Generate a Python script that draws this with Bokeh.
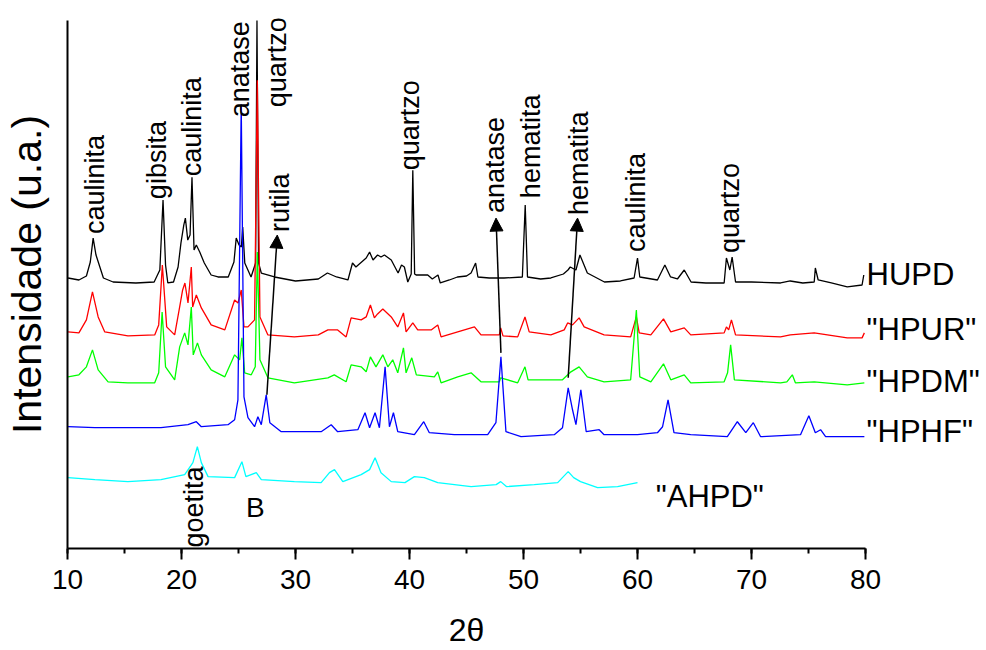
import math
from bokeh.plotting import figure
from bokeh.models import (Range1d, SingleIntervalTicker, FixedTicker, Label, Arrow, NormalHead,
                          LinearAxis)
from bokeh.embed import file_html
from bokeh.resources import INLINE

# ---------------- data (2theta, intensity in arbitrary units, stacked) ----------------
hupd_x = [10.05, 11.0, 11.66, 12.0, 12.25, 12.5, 13.15, 14.0, 16.0, 17.6, 18.1, 18.38, 18.6, 18.8, 19.3,
          19.7, 19.95, 20.2, 20.34, 20.55, 20.75, 20.92, 21.1, 21.3, 21.6, 22.0, 22.6, 23.2, 24.1, 24.6,
          24.8, 25.05, 25.25, 25.37, 25.55, 26.1, 26.5, 26.62, 26.76, 27.0, 28.16, 30.0, 32.0, 32.8, 33.6,
          34.6, 35.0, 35.3, 35.8, 36.2, 36.5, 36.8, 37.2, 37.5, 37.8, 38.4, 39.0, 39.3, 39.55, 39.85,
          40.15, 40.29, 40.45, 40.58, 41.6, 42.0, 42.5, 42.7, 43.5, 44.2, 45.0, 45.4, 45.8, 46.0, 47.0,
          48.3, 49.9, 50.15, 50.35, 51.5, 52.4, 53.5, 53.9, 54.1, 54.6, 54.95, 55.6, 57.1, 58.5, 59.7,
          60.0, 60.2, 61.75, 62.4, 62.9, 63.5, 64.1, 64.7, 66.0, 67.6, 67.8, 68.1, 68.3, 68.6, 70.0,
          72.55, 73.4, 74.5, 75.5, 75.6, 75.85, 77.0, 78.4, 79.7, 79.85]
hupd_y = [271, 269, 273, 287, 311, 294, 271, 267, 266, 267, 279, 349, 284, 266, 267,
          282, 306, 324, 331, 309, 314, 372, 299, 304, 297, 286, 274, 272, 272, 287,
          311, 304, 302, 322, 286, 272, 286, 529, 286, 276, 272, 268, 270, 276, 272,
          269, 286, 282, 287, 291, 297, 289, 294, 292, 294, 289, 276, 284, 282, 267,
          275, 379, 275, 274, 274, 270, 274, 266, 269, 272, 273, 276, 286, 272, 271,
          271, 272, 344, 272, 270, 271, 275, 279, 282, 279, 294, 276, 267, 268, 271,
          291, 272, 269, 284, 272, 270, 279, 267, 266, 266, 291, 279, 292, 267, 267,
          266, 268, 266, 267, 281, 269, 266, 262, 264, 274]

hpur_x = [10.05, 11.0, 11.66, 12.19, 12.69, 13.27, 15.3, 17.65, 18.0, 18.32, 18.7, 19.4, 19.84, 20.1,
          20.3, 20.57, 20.86, 20.98, 21.3, 21.74, 22.6, 23.8, 24.66, 24.96, 25.24, 25.48, 25.83, 26.41,
          26.65, 26.88, 27.58, 29.9, 32.0, 32.84, 33.7, 34.44, 34.88, 35.76, 36.2, 36.57, 36.92, 37.2,
          37.66, 38.4, 38.97, 39.47, 39.7, 40.29, 40.72, 41.9, 42.48, 42.77, 44.23, 45.7, 46.27, 47.88,
          48.0, 48.2, 49.49, 50.13, 50.5, 52.4, 53.57, 53.87, 54.3, 54.88, 55.32, 57.07, 59.4, 59.9,
          60.15, 61.17, 62.28, 62.92, 64.1, 64.67, 67.6, 67.8, 68.0, 68.24, 68.6, 72.55, 73.4, 75.5,
          78.4, 79.7, 79.9]
hpur_y = [217, 216, 229, 257, 232, 217, 213, 214, 224, 284, 222, 214, 242, 259,
          266, 246, 282, 242, 254, 241, 224, 219, 249, 246, 259, 222, 222, 229,
          469, 232, 214, 212, 214, 219, 219, 212, 231, 229, 232, 244, 231, 235,
          240, 232, 222, 236, 217, 226, 219, 219, 224, 212, 217, 222, 214, 214,
          221, 213, 212, 232, 217, 214, 219, 226, 224, 231, 222, 214, 212, 232,
          216, 214, 230, 217, 221, 214, 216, 222, 219, 229, 214, 212, 214, 216,
          211, 211, 216]

hpdm_x = [10.05, 11.0, 11.66, 12.19, 12.69, 13.56, 15.3, 17.65, 18.0, 18.3, 18.6, 19.4, 19.84, 20.28,
          20.57, 20.86, 21.03, 21.4, 21.74, 22.6, 23.8, 24.66, 25.1, 25.3, 25.54, 26.12, 26.47, 26.65,
          26.88, 27.58, 29.9, 32.84, 33.4, 34.44, 34.88, 35.76, 36.2, 36.57, 37.06, 37.66, 38.1, 38.53,
          38.97, 39.47, 39.7, 40.2, 40.6, 42.18, 42.48, 42.77, 44.23, 45.4, 46.27, 47.88, 48.0, 49.49,
          50.13, 50.4, 52.4, 53.42, 54.16, 54.88, 55.6, 57.07, 59.4, 59.9, 60.2, 61.17, 62.28, 62.92,
          64.1, 64.67, 67.6, 67.9, 68.17, 68.5, 72.55, 73.1, 73.58, 73.85, 75.5, 78.4, 79.9]
hpdm_y = [172, 174, 182, 199, 179, 167, 166, 166, 176, 237, 182, 169, 202, 216,
          204, 242, 194, 206, 194, 179, 172, 194, 189, 211, 176, 174, 182, 297,
          189, 171, 166, 171, 174, 167, 184, 182, 177, 192, 182, 194, 182, 189,
          176, 201, 176, 191, 174, 172, 177, 166, 172, 176, 167, 167, 171, 166,
          182, 169, 169, 169, 177, 182, 172, 167, 169, 239, 172, 167, 185, 169,
          174, 166, 167, 176, 204, 169, 166, 167, 174, 166, 167, 164, 166]

hphf_x = [10.05, 12.4, 15.3, 18.2, 20.57, 21.3, 21.74, 24.08, 24.66, 24.95, 25.24, 25.48, 25.83, 26.41,
          26.7, 27.0, 27.43, 27.75, 28.75, 29.9, 32.25, 33.13, 33.7, 35.47, 36.1, 36.5, 36.98, 37.36,
          37.86, 38.24, 38.59, 38.97, 40.43, 41.25, 41.74, 43.93, 46.86, 47.58, 48.02, 48.46, 49.78,
          52.7, 53.42, 53.92, 54.3, 54.6, 55.03, 55.5, 56.64, 57.07, 60.0, 61.75, 62.2, 62.68, 63.2,
          64.67, 67.88, 68.76, 69.5, 70.16, 70.8, 74.3, 75.03, 75.6, 76.06, 76.5, 79.9]
hphf_y = [122, 121, 121, 121, 124, 127, 122, 124, 129, 149, 445, 152, 131, 122,
          132, 124, 154, 126, 117, 117, 117, 124, 117, 119, 136, 121, 136, 121,
          182, 122, 136, 117, 114, 127, 116, 114, 114, 126, 192, 117, 112,
          114, 121, 161, 139, 124, 159, 117, 119, 114, 114, 116, 122, 149, 116,
          114, 112, 127, 116, 126, 112, 114, 133, 116, 119, 112, 112]

ahpd_x = [10.05, 12.4, 15.3, 18.2, 20.28, 21.0, 21.39, 21.74, 22.33, 24.66, 25.3, 25.65, 26.56, 27.0,
          29.9, 32.25, 32.98, 33.42, 34.15, 35.76, 36.5, 36.98, 37.5, 38.4, 39.6, 40.43, 41.3, 42.48,
          45.4, 47.6, 48.0, 48.5, 50.94, 53.0, 53.92, 54.4, 55.0, 56.5, 58.25, 60.0]
ahpd_y = [71, 69, 67, 69, 74, 86, 102, 86, 72, 71, 87, 72, 76, 69,
          67, 66, 76, 79, 67, 74, 79, 91, 76, 67, 66, 72, 71, 66,
          62, 64, 67, 62, 64, 66, 77, 71, 67, 61, 62, 66]

series_names = ["HUPD", "\"HPUR\"", "\"HPDM\"", "\"HPHF\"", "\"AHPD\""]
series_colors = ["#000000", "#ff0000", "#00ff00", "#0000ff", "#00ffff"]

peak_names = ["caulinita", "gibsita", "caulinita", "anatase", "quartzo", "rutila", "quartzo",
              "anatase", "hematita", "hematita", "caulinita", "quartzo", "goetita"]

y_axis_span = (0, 529)

# ---------------- figure ----------------
FONT = "Liberation Sans"
p = figure(width=986, height=650, output_backend="svg", toolbar_location=None,
           x_range=Range1d(10, 80), y_range=Range1d(0, 549),
           min_border_left=66, min_border_right=121, min_border_top=0, min_border_bottom=101)
p.grid.visible = False
p.outline_line_color = None
p.background_fill_color = "white"
p.border_fill_color = "white"

xs = [hupd_x, hpur_x, hpdm_x, hphf_x, ahpd_x]
ys = [hupd_y, hpur_y, hpdm_y, hphf_y, ahpd_y]
for x, y, c in zip(xs, ys, series_colors):
    p.line(x, y, line_color=c, line_width=1.3)

# x axis
xa = p.xaxis[0]
xa.ticker = SingleIntervalTicker(interval=10, num_minor_ticks=2)
xa.axis_line_width = 2
xa.axis_line_color = "black"
xa.major_tick_line_width = 2
xa.major_tick_out = 11
xa.major_tick_in = 0
xa.minor_tick_line_width = 2
xa.minor_tick_out = 5
xa.minor_tick_in = 0
xa.major_label_text_font = FONT
xa.major_label_text_font_size = "28px"
xa.major_label_text_color = "black"
xa.major_label_standoff = 10
xa.axis_label = "2θ"
xa.axis_label_text_font = FONT
xa.axis_label_text_font_size = "32px"
xa.axis_label_text_font_style = "normal"
xa.axis_label_text_color = "black"
xa.axis_label_standoff = 20

# y axis
ya = p.yaxis[0]
ya.bounds = y_axis_span
ya.ticker = FixedTicker(ticks=[])
ya.axis_line_width = 2
ya.axis_line_color = "black"
ya.major_tick_out = 0
ya.major_tick_in = 0
ya.minor_tick_out = 0
ya.minor_tick_in = 0
ya.major_label_standoff = 0
ya.axis_label = "Intensidade (u.a.)"
ya.axis_label_text_font = FONT
ya.axis_label_text_font_size = "41px"
ya.axis_label_text_font_style = "normal"
ya.axis_label_text_color = "black"
ya.axis_label_standoff = 18

# series names at the right end of the traces (right-hand axis labels)
name_levels = [275, 219, 167, 117]
ra = LinearAxis(ticker=FixedTicker(ticks=name_levels),
                major_label_overrides={lv: nm for lv, nm in zip(name_levels, series_names[:4])},
                axis_line_color=None, major_tick_line_color=None, minor_tick_line_color=None,
                major_tick_out=0, major_tick_in=0, major_label_standoff=1,
                major_label_text_font=FONT, major_label_text_font_size="31px",
                major_label_text_color="black")
p.add_layout(ra, "right")

# peak labels (rotated), anchored at the start of the text
label_pos = [(12.37, 315), (17.89, 350), (20.96, 373), (25.16, 432), (28.40, 442), (28.67, 317),
             (40.05, 379), (47.50, 336), (50.66, 351), (54.86, 334), (59.85, 297), (68.09, 296),
             (21.13, 1)]
for name, (lx, ly) in zip(peak_names, label_pos):
    p.add_layout(Label(x=lx, y=ly, text=name, angle=math.pi / 2, text_font=FONT,
                       text_font_size="27px", text_color="black",
                       text_align="left", text_baseline="alphabetic"))

# arrows
arrow_pos = [((27.49, 154), (28.40, 314)), ((48.02, 196), (47.59, 331)), ((53.92, 171), (54.74, 331))]
for (x0, y0), (x1, y1) in arrow_pos:
    p.add_layout(Arrow(x_start=x0, y_start=y0, x_end=x1, y_end=y1, line_color="black",
                       line_width=1.5,
                       end=NormalHead(size=13, fill_color="black", line_color="black", line_width=1)))

# last sample name (inside the plot area)
p.add_layout(Label(x=61.6, y=52, text=series_names[4], text_font=FONT, text_font_size="31px",
                   text_color="black", text_align="left", text_baseline="middle"))

p.add_layout(Label(x=26.47, y=41.5, text="B", text_font=FONT, text_font_size="28px",
                   text_color="black", text_align="center", text_baseline="middle"))

open("out.html", "w").write(file_html(p, INLINE))
